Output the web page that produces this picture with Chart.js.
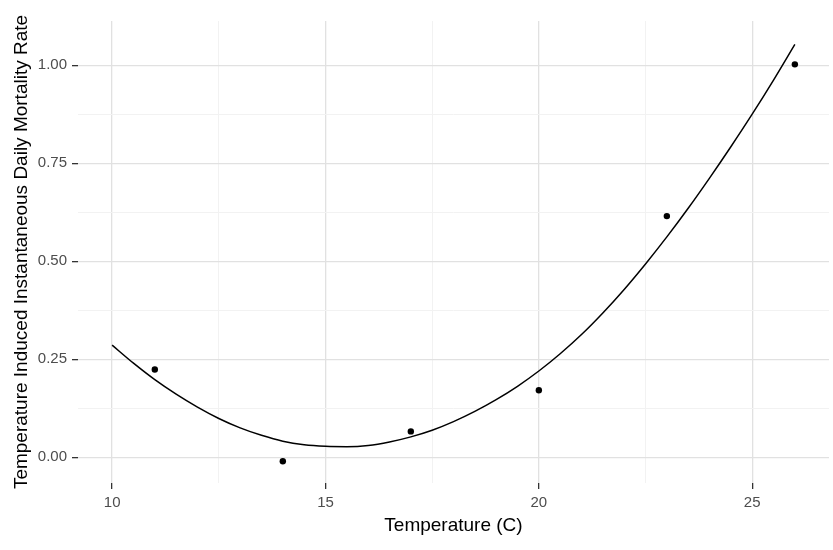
<!DOCTYPE html>
<html lang="en">
<head>
    <meta charset="UTF-8">
    <title>Temperature Induced Mortality</title>
    <script src="https://cdn.jsdelivr.net/npm/chart.js"></script>
    <style>
        html, body { margin: 0; padding: 0; background: #fff; }
        #wrap { width: 833px; height: 550px; }
    </style>
</head>
<body>
    <div id="wrap">
        <canvas id="myChart" width="833" height="550"></canvas>
    </div>

    <script>
        // observed points
        const obsTemp = [11, 14, 17, 20, 23, 26];
        const obsRate = [0.224, -0.010, 0.066, 0.171, 0.615, 1.002];

        // fitted curve
        const curveTemp = [10, 10.5, 11, 11.5, 12, 12.5, 13, 13.5, 14, 14.5, 15, 15.5, 16, 16.5, 17, 17.5,
                           18, 18.5, 19, 19.5, 20, 20.5, 21, 21.5, 22, 22.5, 23, 23.5, 24, 24.5, 25, 25.5, 26];
        const curveRate = [0.286, 0.240, 0.198, 0.161, 0.128, 0.099, 0.075, 0.056, 0.041, 0.032, 0.028, 0.027,
                           0.030, 0.039, 0.052, 0.069, 0.091, 0.117, 0.147, 0.181, 0.220, 0.264, 0.313, 0.368,
                           0.428, 0.493, 0.562, 0.635, 0.712, 0.792, 0.875, 0.962, 1.053];

        // axis ticks
        const xTicks = [10, 15, 20, 25];
        const xTickLabels = ['10', '15', '20', '25'];
        const xMinor = [12.5, 17.5, 22.5];
        const yTicks = [0, 0.25, 0.5, 0.75, 1.0];
        const yTickLabels = ['0.00', '0.25', '0.50', '0.75', '1.00'];
        const yMinor = [0.125, 0.375, 0.625, 0.875];

        const FONT = '"Liberation Sans", Arial, sans-serif';
        const MAJOR_GRID = '#e1e1e1';
        const MINOR_GRID = '#f2f2f2';

        function isMajor(list, v) {
            return list.some(t => Math.abs(t - v) < 1e-9);
        }

        function gridOpts(majors) {
            return {
                color: c => isMajor(majors, c.tick.value) ? MAJOR_GRID : MINOR_GRID,
                lineWidth: c => isMajor(majors, c.tick.value) ? 1.3 : 1,
                tickColor: c => isMajor(majors, c.tick.value) ? '#333333' : 'rgba(0,0,0,0)',
                tickLength: 6,
                drawTicks: true
            };
        }

        const ctx = document.getElementById('myChart').getContext('2d');
        new Chart(ctx, {
            type: 'scatter',
            data: {
                datasets: [
                    {
                        type: 'line',
                        label: 'fit',
                        data: curveTemp.map((t, i) => ({ x: t, y: curveRate[i] })),
                        borderColor: '#000',
                        borderWidth: 1.5,
                        pointRadius: 0,
                        fill: false,
                        cubicInterpolationMode: 'monotone'
                    },
                    {
                        label: 'observed',
                        data: obsTemp.map((t, i) => ({ x: t, y: obsRate[i] })),
                        backgroundColor: '#000',
                        borderColor: '#000',
                        pointRadius: 3.2,
                        pointBorderWidth: 0
                    }
                ]
            },
            options: {
                responsive: false,
                animation: false,
                layout: { padding: { top: 21, right: 3, left: 0, bottom: 0 } },
                plugins: {
                    legend: { display: false },
                    tooltip: { enabled: false }
                },
                scales: {
                    x: {
                        type: 'linear',
                        min: 9.2,
                        max: 26.8,
                        border: { display: false },
                        grid: gridOpts(xTicks),
                        afterBuildTicks: s => {
                            s.ticks = xTicks.concat(xMinor).sort((a, b) => a - b).map(v => ({ value: v }));
                        },
                        afterFit: s => { s.height = 67; },
                        ticks: {
                            autoSkip: false,
                            maxRotation: 0,
                            padding: 5,
                            color: '#4d4d4d',
                            font: { family: FONT, size: 15 },
                            callback: v => {
                                const i = xTicks.findIndex(t => Math.abs(t - v) < 1e-9);
                                return i >= 0 ? xTickLabels[i] : '';
                            }
                        },
                        title: {
                            display: true,
                            text: 'Temperature (C)',
                            color: '#000',
                            font: { family: FONT, size: 19 },
                            padding: { top: 0, bottom: 13 }
                        }
                    },
                    y: {
                        type: 'linear',
                        min: -0.0656,
                        max: 1.1126,
                        border: { display: false },
                        grid: gridOpts(yTicks),
                        afterBuildTicks: s => {
                            s.ticks = yTicks.concat(yMinor).sort((a, b) => a - b).map(v => ({ value: v }));
                        },
                        afterFit: s => { s.width = 78; },
                        ticks: {
                            autoSkip: false,
                            padding: 5,
                            color: '#4d4d4d',
                            font: { family: FONT, size: 15 },
                            callback: v => {
                                const i = yTicks.findIndex(t => Math.abs(t - v) < 1e-9);
                                return i >= 0 ? yTickLabels[i] : '';
                            }
                        },
                        title: {
                            display: true,
                            text: 'Temperature Induced Instantaneous Daily Mortality Rate',
                            color: '#000',
                            font: { family: FONT, size: 19 },
                            padding: { top: 10, bottom: 0 }
                        }
                    }
                }
            }
        });
    </script>
</body>
</html>
